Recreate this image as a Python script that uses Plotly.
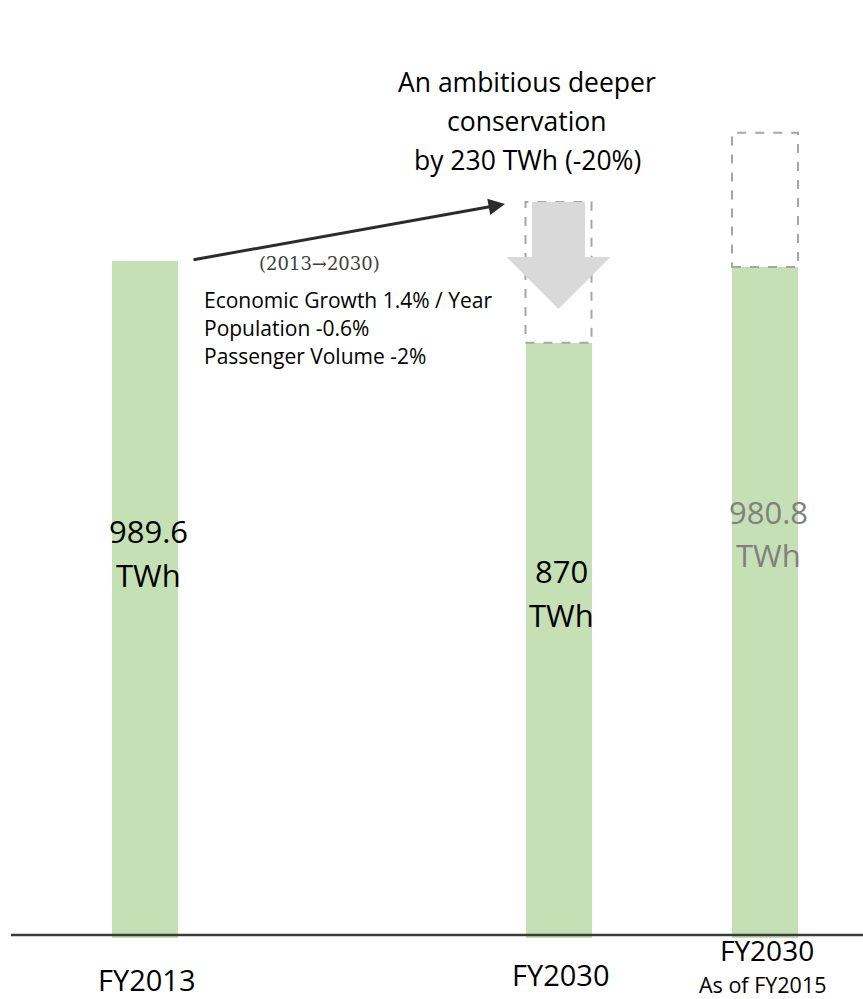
import plotly.graph_objects as go

# ---- data ----
categories = ["FY2013", "FY2030", "FY2030"]
sublabels = ["", "", "As of FY2015"]
values = [989.6, 870.0, 980.8]               # TWh (green bars)
before_conservation = [None, 1076.0, 1177.0]  # TWh (dashed boxes)
value_colors = ["#000000", "#000000", "#808080"]
title_lines = ["An ambitious deeper", "conservation", "by 230 TWh (-20%)"]
period_text = "(2013\u21922030)"
driver_lines = ["Economic Growth 1.4% / Year", "Population -0.6%", "Passenger Volume -2%"]

# ---- layout helpers ----
W, H = 863, 999
BASE_PX = 938            # pixel row of y=0
PX_PER_UNIT = 0.6841     # pixels per TWh
YMAX = BASE_PX / PX_PER_UNIT
x_pos = [145, 558.5, 765]
bar_w = 66
FONT = "'Open Sans', 'Noto Sans', sans-serif"
GREEN = "#c5e0b4"


def ypx(p):
    """pixel row -> data y"""
    return (BASE_PX - p) / PX_PER_UNIT


def ppx(p):
    """pixel row -> paper y"""
    return (BASE_PX - p) / BASE_PX


fig = go.Figure()
fig.add_trace(go.Bar(x=x_pos, y=values, width=bar_w, marker=dict(color=GREEN, line=dict(width=0)),
                     hoverinfo="skip", showlegend=False))

shapes = []
# dashed boxes (pre-conservation demand)
for xc, v, top in zip(x_pos, values, before_conservation):
    if top is None:
        continue
    shapes.append(dict(type="rect", xref="x", yref="y", x0=xc - bar_w / 2, x1=xc + bar_w / 2,
                       y0=v, y1=top, line=dict(color="#a6a6a6", width=2, dash="dash"),
                       fillcolor="rgba(0,0,0,0)", layer="above"))

# big grey down arrow on the FY2030 bar
xc, top = x_pos[1], before_conservation[1]
sh, hh = 26.5, 52
y_neck = top - 55 / PX_PER_UNIT
y_tip = top - 107 / PX_PER_UNIT
path = (f"M {xc-sh},{top} L {xc+sh},{top} L {xc+sh},{y_neck} L {xc+hh},{y_neck} "
        f"L {xc},{y_tip} L {xc-hh},{y_neck} L {xc-sh},{y_neck} Z")
shapes.append(dict(type="path", xref="x", yref="y", path=path, fillcolor="#d9d9d9",
                   line=dict(width=0), layer="above"))

# baseline
shapes.append(dict(type="line", xref="paper", yref="paper", x0=11 / W, x1=1, y0=ppx(935), y1=ppx(935),
                   line=dict(color="#3a3a3a", width=2.5)))

annotations = []
# trend arrow
annotations.append(dict(x=505, y=ypx(204), ax=192, ay=ypx(260), xref="x", yref="y", axref="x", ayref="y",
                        showarrow=True, arrowhead=2, arrowsize=1.1, arrowwidth=3, arrowcolor="#2b2b2b", text=""))

# title
for t, yp in zip(title_lines, [82, 121, 160]):
    annotations.append(dict(x=527, y=ppx(yp), xref="x", yref="paper", text=t, showarrow=False,
                            font=dict(family=FONT, size=26.5, color="#000000"), xanchor="center", yanchor="middle"))

annotations.append(dict(x=319, y=ppx(263), xref="x", yref="paper", text=period_text, showarrow=False,
                        font=dict(family="'DejaVu Serif', serif", size=18, color="#404040"),
                        xanchor="center", yanchor="middle"))

for t, yp in zip(driver_lines, [300, 328, 356]):
    annotations.append(dict(x=202, y=ppx(yp), xref="x", yref="paper", text=t, showarrow=False,
                            font=dict(family=FONT, size=21, color="#000000"), xanchor="left", yanchor="middle"))

# value labels
label_rows = [(531, 575), (571, 615), (512, 555)]
for xc, v, col, (r1, r2) in zip(x_pos, values, value_colors, label_rows):
    txt = f"{v:g}"
    annotations.append(dict(x=xc + 3, y=ppx(r1), xref="x", yref="paper", text=txt, showarrow=False,
                            font=dict(family=FONT, size=31, color=col), xanchor="center", yanchor="middle"))
    annotations.append(dict(x=xc + 3, y=ppx(r2), xref="x", yref="paper", text="TWh", showarrow=False,
                            font=dict(family=FONT, size=31, color=col), xanchor="center", yanchor="middle"))

# category labels
cat_rows = [(980, None, 29), (974, None, 29), (950, 984.5, 28)]
for xc, c, s, (r1, r2, fs) in zip(x_pos, categories, sublabels, cat_rows):
    annotations.append(dict(x=xc + 2, y=ppx(r1), xref="x", yref="paper", text=c, showarrow=False,
                            font=dict(family=FONT, size=fs, color="#000000"), xanchor="center", yanchor="middle"))
    if s:
        annotations.append(dict(x=xc - 3, y=ppx(r2), xref="x", yref="paper", text=s, showarrow=False,
                                font=dict(family=FONT, size=21.5, color="#000000"), xanchor="center", yanchor="middle"))

fig.update_layout(
    width=W, height=H,
    margin=dict(l=0, r=0, t=0, b=H - BASE_PX, pad=0),
    paper_bgcolor="white", plot_bgcolor="white",
    xaxis=dict(range=[0, W], visible=False, fixedrange=True),
    yaxis=dict(range=[0, YMAX], visible=False, fixedrange=True),
    shapes=shapes, annotations=annotations, showlegend=False, bargap=0,
)

fig.write_html("out.html")
